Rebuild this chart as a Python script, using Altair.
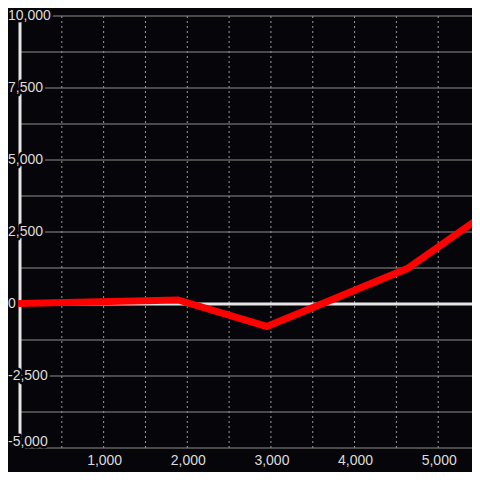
import altair as alt
import pandas as pd

# Series
x_vals = [0, 1890, 2950, 4630, 5500]
y_vals = [20, 140, -780, 1230, 3000]

# Axis tick positions / labels
y_grid = [-5000, -3750, -2500, -1250, 0, 1250, 2500, 3750, 5000, 6250, 7500, 8750, 10000]
y_label_vals = [-5000, -2500, 0, 2500, 5000, 7500, 10000]
y_label_txt = ["-5,000", "-2,500", "0", "2,500", "5,000", "7,500", "10,000"]
x_grid = [500, 1000, 1500, 2000, 2500, 3000, 3500, 4000, 4500, 5000]
x_label_vals = [1000, 2000, 3000, 4000, 5000]
x_label_txt = ["1,000", "2,000", "3,000", "4,000", "5,000"]

BG = "#060509"
FONT = "Liberation Sans"
LABEL = "#dcdcdc"
W, H = 452, 432

line_df = pd.DataFrame({"x": x_vals, "y": y_vals})
ylab_df = pd.DataFrame({"v": y_label_vals, "lab": y_label_txt})
xlab_df = pd.DataFrame({"v": x_label_vals, "lab": x_label_txt})
ygrid_df = pd.DataFrame({"v": y_grid})
xgrid_df = pd.DataFrame({"v": x_grid})
zero_df = pd.DataFrame({"v": [0]})

xs = alt.Scale(domain=[0, 5404], nice=False, zero=False)
ys = alt.Scale(domain=[-5000, 10000], nice=False, zero=False)

vgrid = alt.Chart(xgrid_df).mark_rule(color="#9a9a9a", strokeWidth=1, strokeDash=[2, 3]).encode(
    x=alt.X("v:Q", scale=xs, axis=None),
)
hgrid = alt.Chart(ygrid_df).mark_rule(color="#8e908b", strokeWidth=1).encode(
    y=alt.Y("v:Q", scale=ys, axis=None),
)
zero_line = alt.Chart(zero_df).mark_rule(color="#e6e6e6", strokeWidth=3).encode(
    y=alt.Y("v:Q", scale=ys, axis=None),
)
axis_line = alt.Chart(zero_df).mark_rule(color="#e6e6e6", strokeWidth=3).encode(
    x=alt.X("v:Q", scale=xs, axis=None),
)

series = alt.Chart(line_df).mark_line(
    color="#ff0000", strokeWidth=7, strokeCap="square", strokeJoin="miter"
).encode(
    x=alt.X("x:Q", scale=xs, axis=None),
    y=alt.Y("y:Q", scale=ys, axis=None),
)

xlabels = alt.Chart(xlab_df).mark_text(
    align="center", baseline="middle", fontSize=14, font=FONT, fill=LABEL, dx=1
).encode(
    x=alt.X("v:Q", scale=xs, axis=None),
    y=alt.value(H + 13),
    text="lab:N",
)


def ylabels(filt, xpos, dy, halo):
    kw = dict(align="left", baseline="middle", fontSize=14, font=FONT, dy=dy)
    if halo:
        mk = alt.Chart(ylab_df).mark_text(fill=BG, stroke=BG, strokeWidth=5,
                                          strokeJoin="round", **kw)
    else:
        mk = alt.Chart(ylab_df).mark_text(fill=LABEL, **kw)
    return mk.transform_filter(filt).encode(
        x=alt.value(xpos),
        y=alt.Y("v:Q", scale=ys, axis=None),
        text="lab:N",
    )


layers = [vgrid, hgrid, zero_line, axis_line, series, xlabels]
for halo in (True, False):
    layers.append(ylabels("datum.v > -5000", -12, 0, halo))
    layers.append(ylabels("datum.v == -5000", -12, -6, halo))

chart = alt.layer(*layers).properties(
    width=W, height=H,
    autosize=alt.AutoSizeParams(type="none"),
    padding={"left": 12, "top": 8, "right": 0, "bottom": 24},
    background=BG,
).configure_view(stroke=None)

chart.save("out.html", embed_options={"renderer": "svg", "actions": False})
